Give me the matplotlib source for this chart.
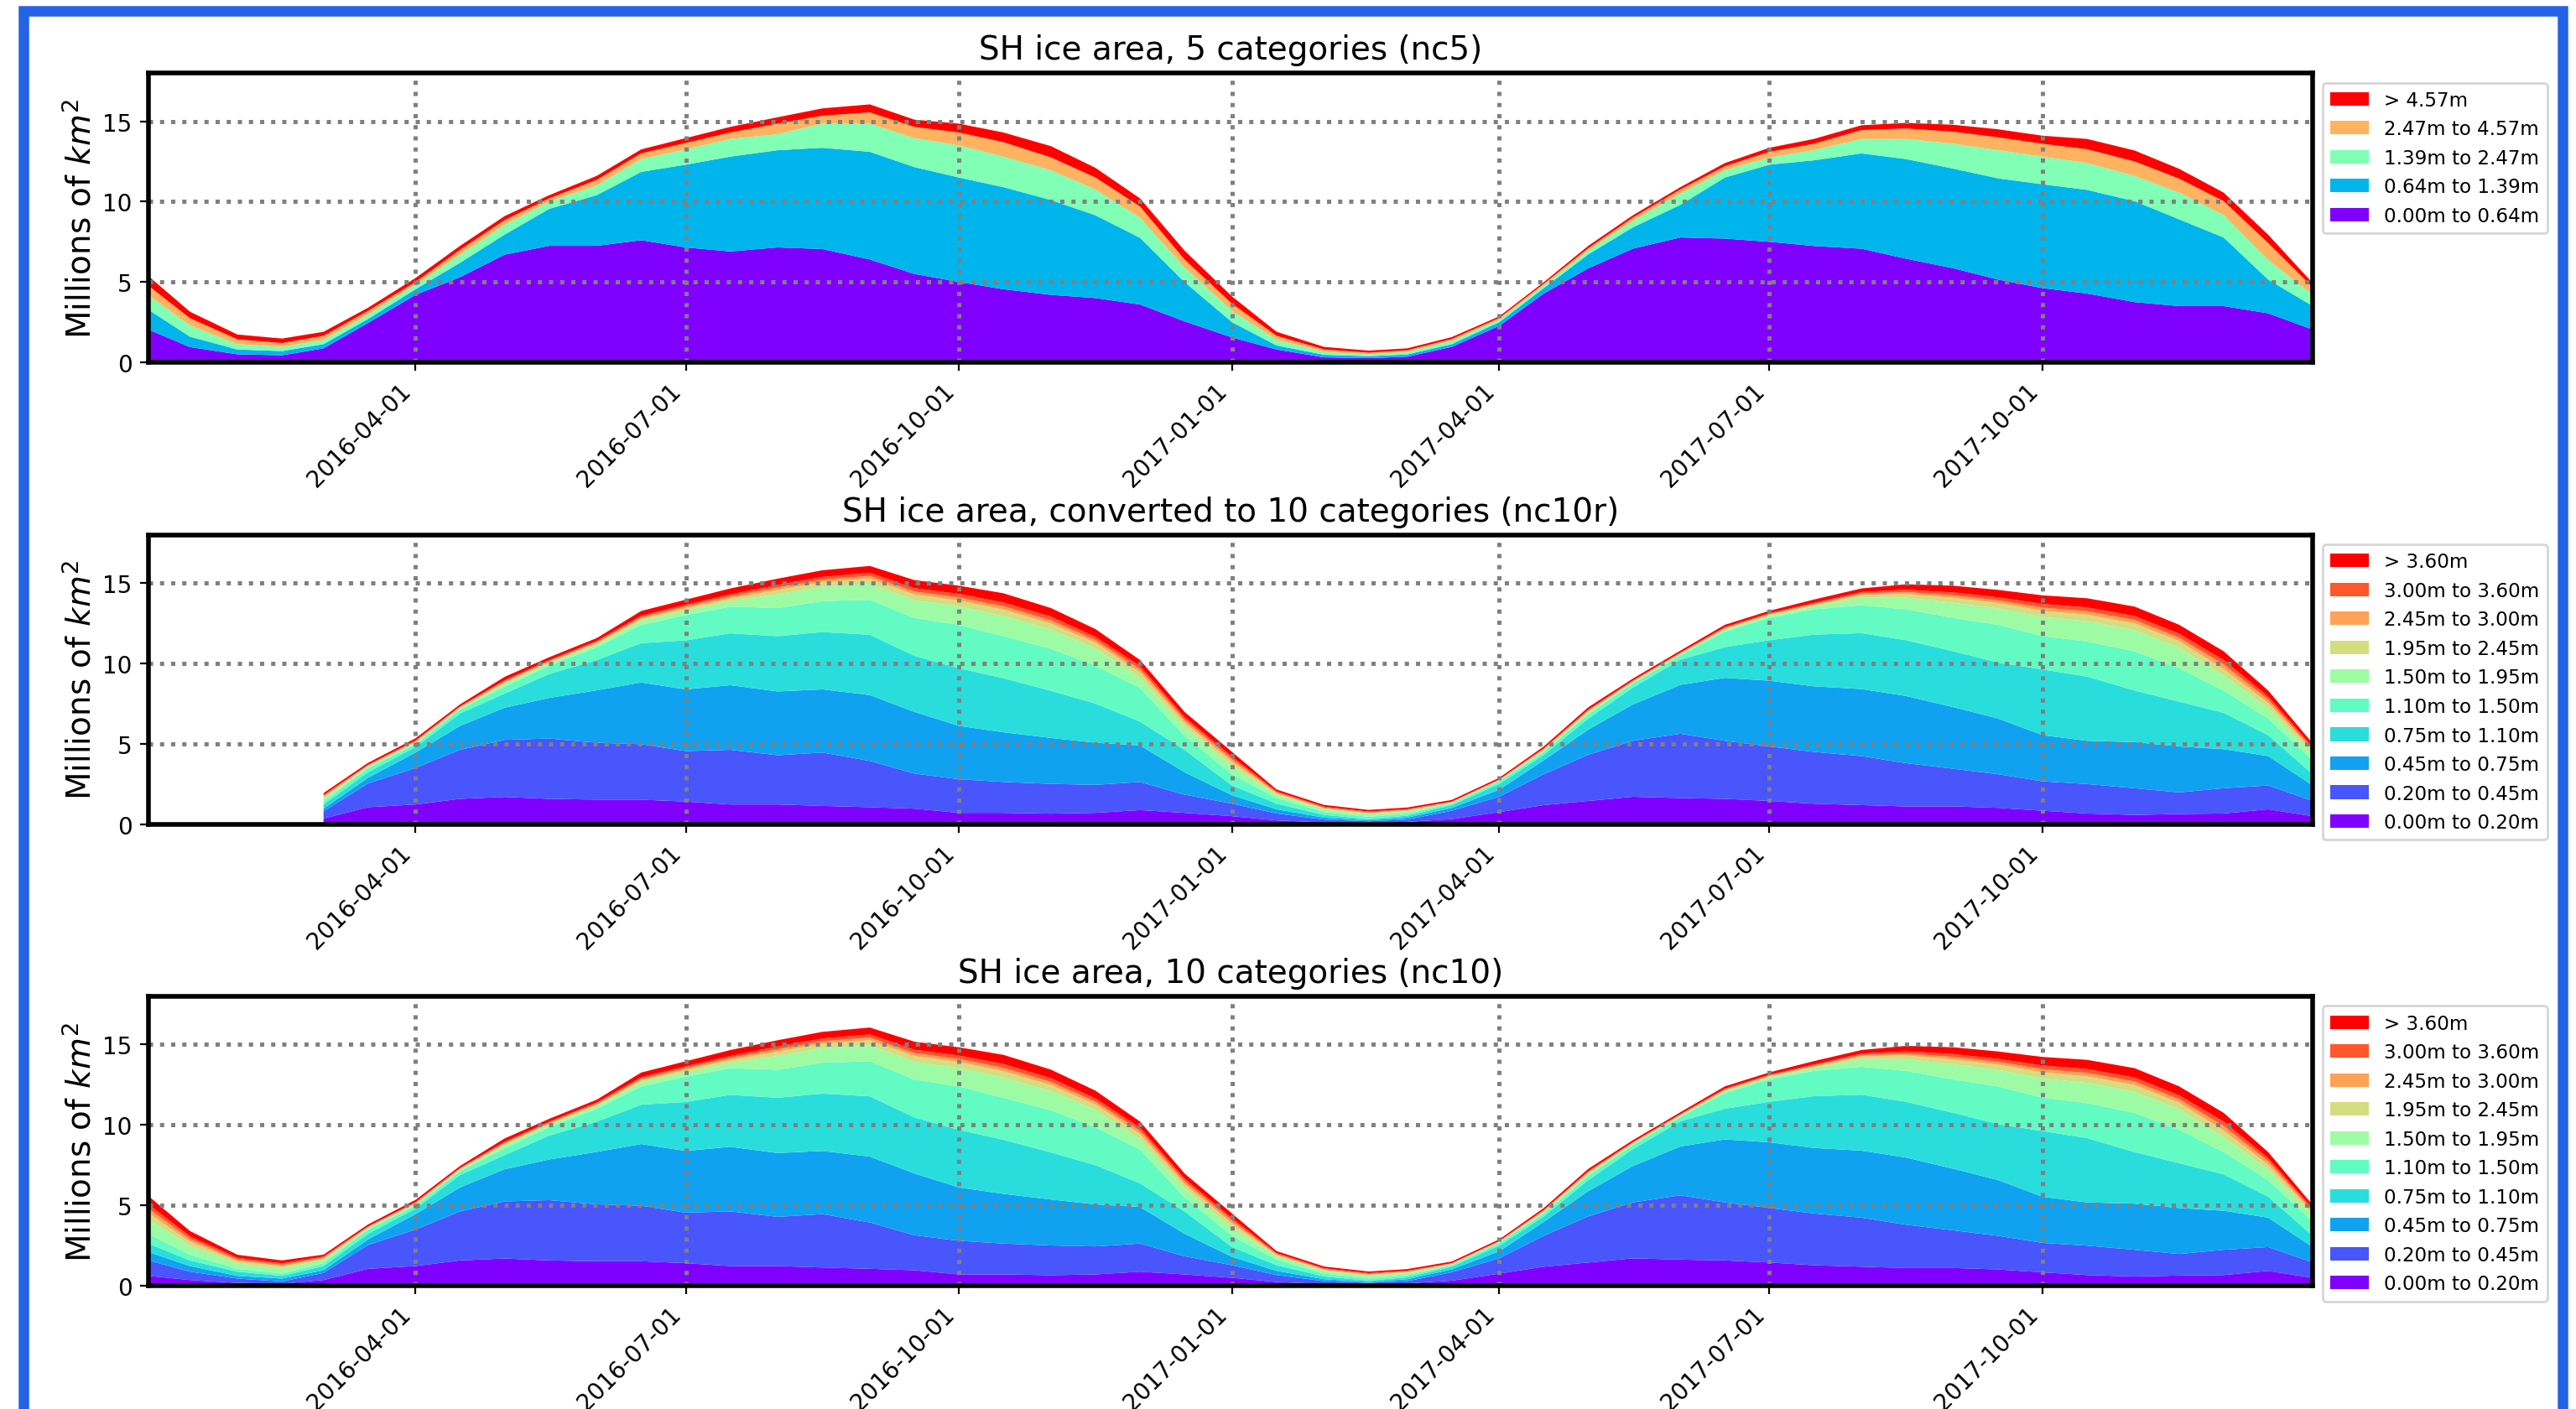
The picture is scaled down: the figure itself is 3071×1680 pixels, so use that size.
import matplotlib
matplotlib.use('Agg')
import matplotlib.pyplot as plt
import matplotlib.dates as mdates
from matplotlib.patches import Rectangle
import numpy as np
import pandas as pd

# sample dates: 1st and 16th of every month, 2016-01-02 .. 2017-12-31
month_starts = pd.date_range('2016-01-01', '2017-12-01', freq='MS')
half_months = sorted(list(month_starts) + list(month_starts + pd.Timedelta(days=15)))
dates = pd.DatetimeIndex([pd.Timestamp('2016-01-02')] + half_months[1:] + [pd.Timestamp('2017-12-31')])

# nc5 ice area by thickness category (millions of km^2)
nc5_c0 = [2.04, 0.95, 0.5, 0.44, 0.87, 2.45, 4.2, 5.3, 6.7, 7.25, 7.25, 7.6, 7.15, 6.9, 7.15, 7.05, 6.4, 5.5, 5.0, 4.55,
          4.2, 4.0, 3.6, 2.55, 1.55, 0.8, 0.31, 0.26, 0.35, 0.96, 2.27, 4.28, 5.85, 7.07, 7.77, 7.7, 7.5, 7.24, 7.07,
          6.45, 5.85, 5.15, 4.62, 4.28, 3.75, 3.5, 3.5, 3.05, 2.04]
nc5_c1 = [1.24, 0.65, 0.3, 0.26, 0.26, 0.25, 0.35, 0.9, 1.25, 2.3, 3.15, 4.25, 5.15, 5.9, 6.05, 6.3, 6.7, 6.65, 6.5,
          6.35, 5.9, 5.15, 4.15, 2.45, 0.95, 0.25, 0.16, 0.12, 0.14, 0.17, 0.23, 0.34, 0.87, 1.33, 2.03, 3.8, 4.8, 5.33,
          5.93, 6.2, 6.2, 6.3, 6.46, 6.45, 6.28, 5.4, 4.27, 2.1, 1.46]
nc5_c2 = [0.89, 0.7, 0.33, 0.26, 0.27, 0.27, 0.3, 0.5, 0.6, 0.45, 0.6, 0.8, 0.95, 1.1, 1.0, 1.5, 1.75, 1.8, 2.0, 1.9,
          1.85, 1.6, 1.25, 0.9, 0.7, 0.35, 0.18, 0.12, 0.16, 0.21, 0.15, 0.18, 0.26, 0.4, 0.7, 0.45, 0.45, 0.63, 0.9,
          1.25, 1.55, 1.75, 1.72, 1.67, 1.57, 1.66, 1.39, 1.22, 0.7]
nc5_c3 = [0.6, 0.45, 0.3, 0.24, 0.25, 0.23, 0.15, 0.3, 0.3, 0.2, 0.35, 0.35, 0.4, 0.4, 0.65, 0.5, 0.7, 0.7, 0.8, 0.9,
          0.8, 0.75, 0.7, 0.5, 0.45, 0.25, 0.15, 0.1, 0.1, 0.11, 0.11, 0.09, 0.12, 0.2, 0.25, 0.25, 0.35, 0.4, 0.55,
          0.65, 0.75, 0.8, 0.8, 0.86, 0.9, 0.87, 0.87, 1.05, 0.47]
nc5_c4 = [0.6, 0.4, 0.3, 0.28, 0.25, 0.2, 0.25, 0.25, 0.25, 0.2, 0.25, 0.25, 0.3, 0.35, 0.4, 0.45, 0.5, 0.45, 0.55, 0.6,
          0.7, 0.6, 0.5, 0.55, 0.45, 0.25, 0.16, 0.13, 0.12, 0.12, 0.1, 0.1, 0.15, 0.15, 0.15, 0.2, 0.25, 0.3, 0.3,
          0.35, 0.43, 0.5, 0.5, 0.64, 0.68, 0.61, 0.53, 0.52, 0.26]
nc5_labels = ['0.00m to 0.64m', '0.64m to 1.39m', '1.39m to 2.47m', '2.47m to 4.57m', '> 4.57m']

# nc10 ice area by thickness category (millions of km^2)
nc10_c0 = [0.61, 0.35, 0.17, 0.12, 0.35, 1.05, 1.22, 1.57, 1.69, 1.57, 1.52, 1.52, 1.40, 1.22, 1.22, 1.13, 1.05, 0.96,
           0.70, 0.70, 0.65, 0.70, 0.87, 0.70, 0.49, 0.23, 0.10, 0.09, 0.14, 0.31, 0.75, 1.18, 1.44, 1.70, 1.62, 1.57,
           1.44, 1.27, 1.18, 1.10, 1.10, 1.01, 0.83, 0.66, 0.57, 0.63, 0.66, 0.92, 0.49]
nc10_c1 = [0.96, 0.52, 0.27, 0.14, 0.44, 1.48, 2.27, 3.05, 3.55, 3.75, 3.54, 3.45, 3.14, 3.40, 3.06, 3.32, 2.88, 2.18,
           2.09, 1.92, 1.85, 1.74, 1.75, 1.13, 0.78, 0.43, 0.18, 0.08, 0.14, 0.52, 0.95, 1.92, 2.87, 3.48, 4.00, 3.61,
           3.39, 3.22, 3.05, 2.69, 2.34, 2.09, 1.83, 1.83, 1.66, 1.34, 1.57, 1.48, 0.95]
nc10_c2 = [0.52, 0.35, 0.17, 0.18, 0.17, 0.35, 0.96, 1.49, 2.00, 2.53, 3.26, 3.84, 3.84, 4.02, 3.97, 3.93, 4.10, 3.84,
           3.32, 3.09, 2.86, 2.62, 2.27, 1.40, 0.52, 0.26, 0.12, 0.06, 0.12, 0.18, 0.44, 0.87, 1.57, 2.26, 3.04, 3.92,
           4.09, 4.08, 4.17, 4.18, 3.83, 3.47, 2.87, 2.69, 2.87, 2.86, 2.43, 1.83, 0.96]
nc10_c3 = [0.53, 0.35, 0.26, 0.17, 0.26, 0.35, 0.35, 0.78, 0.88, 1.49, 1.88, 2.45, 3.05, 3.23, 3.44, 3.57, 3.75, 3.49,
           3.58, 3.37, 2.93, 2.44, 1.48, 1.39, 0.61, 0.35, 0.17, 0.08, 0.12, 0.17, 0.35, 0.34, 0.69, 1.05, 1.57, 1.91,
           2.52, 3.22, 3.48, 3.47, 3.48, 3.48, 4.09, 4.00, 3.21, 2.79, 2.26, 1.30, 0.70]
nc10_c4 = [0.61, 0.35, 0.18, 0.14, 0.18, 0.26, 0.17, 0.23, 0.43, 0.51, 0.80, 1.13, 1.57, 1.66, 1.75, 1.92, 2.18, 2.36,
           2.70, 2.61, 2.62, 2.36, 2.09, 0.88, 0.70, 0.35, 0.18, 0.14, 0.14, 0.09, 0.17, 0.18, 0.26, 0.26, 0.26, 0.96,
           1.39, 1.57, 1.74, 1.92, 2.08, 2.35, 2.08, 2.18, 2.44, 2.08, 1.39, 1.04, 0.87]
nc10_c5 = [0.89, 0.56, 0.33, 0.31, 0.20, 0.10, 0.10, 0.09, 0.18, 0.16, 0.17, 0.26, 0.29, 0.34, 0.86, 0.90, 0.99, 1.10,
           1.15, 1.25, 1.19, 1.07, 0.67, 0.56, 0.53, 0.20, 0.16, 0.16, 0.13, 0.06, 0.05, 0.10, 0.13, 0.08, 0.08, 0.13,
           0.13, 0.18, 0.49, 0.73, 0.94, 1.02, 1.19, 1.26, 1.31, 1.27, 0.93, 0.66, 0.40]
nc10_c6 = [0.40, 0.25, 0.15, 0.14, 0.09, 0.04, 0.05, 0.05, 0.09, 0.08, 0.09, 0.13, 0.14, 0.17, 0.27, 0.29, 0.32, 0.35,
           0.37, 0.40, 0.38, 0.34, 0.30, 0.25, 0.24, 0.09, 0.07, 0.07, 0.06, 0.03, 0.03, 0.05, 0.07, 0.04, 0.04, 0.06,
           0.07, 0.09, 0.16, 0.23, 0.30, 0.33, 0.38, 0.40, 0.42, 0.41, 0.41, 0.30, 0.18]
nc10_c7 = [0.28, 0.18, 0.10, 0.10, 0.06, 0.03, 0.04, 0.04, 0.07, 0.06, 0.07, 0.10, 0.12, 0.14, 0.15, 0.15, 0.17, 0.19,
           0.19, 0.21, 0.20, 0.18, 0.21, 0.18, 0.17, 0.06, 0.05, 0.05, 0.04, 0.02, 0.02, 0.04, 0.05, 0.03, 0.03, 0.05,
           0.05, 0.07, 0.08, 0.12, 0.16, 0.17, 0.20, 0.22, 0.22, 0.22, 0.29, 0.21, 0.12]
nc10_c8 = [0.26, 0.16, 0.10, 0.09, 0.06, 0.03, 0.04, 0.03, 0.06, 0.05, 0.06, 0.09, 0.10, 0.11, 0.16, 0.17, 0.19, 0.21,
           0.22, 0.24, 0.23, 0.20, 0.19, 0.16, 0.15, 0.06, 0.05, 0.05, 0.04, 0.02, 0.02, 0.03, 0.04, 0.03, 0.03, 0.04,
           0.04, 0.06, 0.09, 0.14, 0.18, 0.19, 0.23, 0.24, 0.25, 0.24, 0.27, 0.19, 0.11]
nc10_c9 = [0.52, 0.33, 0.19, 0.18, 0.12, 0.12, 0.14, 0.12, 0.21, 0.18, 0.18, 0.29, 0.31, 0.37, 0.39, 0.41, 0.43, 0.50,
           0.51, 0.57, 0.53, 0.48, 0.38, 0.33, 0.30, 0.12, 0.11, 0.10, 0.10, 0.10, 0.10, 0.12, 0.15, 0.12, 0.12, 0.15,
           0.15, 0.21, 0.22, 0.34, 0.42, 0.46, 0.53, 0.57, 0.58, 0.56, 0.54, 0.38, 0.23]
nc10_labels = ['0.00m to 0.20m', '0.20m to 0.45m', '0.45m to 0.75m', '0.75m to 1.10m', '1.10m to 1.50m',
               '1.50m to 1.95m', '1.95m to 2.45m', '2.45m to 3.00m', '3.00m to 3.60m', '> 3.60m']

# the converted nc10r run only has output from 2016-03-01 on
nc10r_start = 4


def plot_panel(ax, x, layers, labels, title):
    colors = plt.cm.rainbow(np.linspace(0, 1, len(layers)))
    polys = ax.stackplot(x, *layers, colors=colors, labels=labels)
    ax.set_xlim(dates[0], dates[-1])
    ax.set_ylim(0, 18)
    ax.set_title(title, fontsize=14)
    ax.set_ylabel('Millions of $km^2$', fontsize=14, labelpad=2)
    ax.xaxis.set_major_locator(mdates.MonthLocator(bymonth=(1, 4, 7, 10)))
    ax.xaxis.set_major_formatter(mdates.DateFormatter('%Y-%m-%d'))
    plt.setp(ax.get_xticklabels(), rotation=45, ha='right')
    ax.tick_params(labelsize=10)
    ax.set_axisbelow(False)
    ax.grid(True, color='grey', linestyle=':', linewidth=1.8)
    for spine in ax.spines.values():
        spine.set_linewidth(2)
        spine.set_zorder(3)
    ax.legend(polys[::-1], labels[::-1], loc='upper left', bbox_to_anchor=(1, 1), fontsize=8.3)


def main():
    fig = plt.figure(figsize=(3071 / 200, 1681 / 200), dpi=200)

    nc5 = [nc5_c0, nc5_c1, nc5_c2, nc5_c3, nc5_c4]
    nc10 = [nc10_c0, nc10_c1, nc10_c2, nc10_c3, nc10_c4, nc10_c5, nc10_c6, nc10_c7, nc10_c8, nc10_c9]
    nc10r = [c[nc10r_start:] for c in nc10]

    ax1 = fig.add_axes([0.0576, 0.7424, 0.8402, 0.2052])
    ax2 = fig.add_axes([0.0576, 0.4149, 0.8402, 0.2052])
    ax3 = fig.add_axes([0.0576, 0.0875, 0.8402, 0.2052])

    plot_panel(ax1, dates, nc5, nc5_labels, 'SH ice area, 5 categories (nc5)')
    plot_panel(ax2, dates[nc10r_start:], nc10r, nc10_labels, 'SH ice area, converted to 10 categories (nc10r)')
    plot_panel(ax3, dates, nc10, nc10_labels, 'SH ice area, 10 categories (nc10)')

    # blue frame round the figure (open at the bottom)
    fig.patches.append(Rectangle((27.5 / 3071, -0.1), (3055 - 27.5) / 3071, 1.1 - 13.5 / 1681,
                                 transform=fig.transFigure, fill=False, edgecolor='#2563e6', linewidth=4.5))

    fig.savefig('out.png', dpi=200)


if __name__ == "__main__":
    main()
